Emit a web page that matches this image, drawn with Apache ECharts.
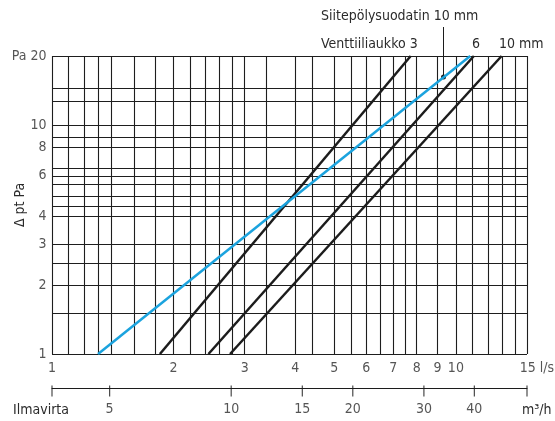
<!DOCTYPE html>
<html>
<head>
<meta charset="utf-8">
<script src="https://cdn.jsdelivr.net/npm/echarts@6/dist/echarts.min.js"></script>
<style>
  html, body { margin: 0; padding: 0; background: #fff; }
  #chart { width: 555px; height: 421px; }
</style>
</head>
<body>
<div id="chart"></div>
<script>
// tick labels, l/s and Pa
const flowTicks = [1, 2, 3, 4, 5, 6, 7, 8, 9, 10, 15];
const flowLabels = ['1', '2', '3', '4', '5', '6', '7', '8', '9', '10', '15 l/s'];
const paTicks = [1, 2, 3, 4, 6, 8, 10, 20];
const paLabels = ['1', '2', '3', '4', '6', '8', '10', 'Pa 20'];

// grid lines as drawn in the original
const gridFlow = [1, 1.1, 1.2, 1.3, 1.4, 1.6, 1.8, 2, 2.2, 2.4, 2.6, 2.8, 3, 3.4, 4, 4.4,
  5, 5.5, 6, 6.5, 7, 7.5, 8, 9, 10, 11, 12, 13, 14, 15];
const gridPa = [1, 1.5, 2, 2.5, 3, 4, 4.4, 4.9, 5.5, 6, 6.5, 8, 8.8, 10, 12.7, 14.4, 20];

// lower scale m3/h
const airflowTicks = [5, 10, 15, 20, 30, 40];
const airflowEnds = [3.6, 54];

// curves (start/end points, straight in log-log)
const curveNames = ['Venttiiliaukko 3', 'Venttiiliaukko 6', 'Venttiiliaukko 10 mm', 'Siitepölysuodatin 10 mm'];
const curveFlowStart = [1.85, 2.44, 2.76, 1.30];
const curveFlowEnd = [7.73, 11.08, 12.98, 10.85];
const curvePaStart = [1, 1, 1, 1];
const curvePaEnd = [20, 20, 20, 20];

const chart = echarts.init(document.getElementById('chart'));
const font = "'Liberation Sans Narrow', 'DejaVu Sans Condensed', sans-serif";
const txt = '#2b2b2b';
const lineCol = '#1c1c1c';

const labelStyle = { color: txt, fontSize: 14, fontFamily: font };

const curveSeries = curveNames.map((name, i) => ({
  name: name,
  type: 'line',
  xAxisIndex: 0,
  yAxisIndex: 0,
  data: [[curveFlowStart[i], curvePaStart[i]], [curveFlowEnd[i], curvePaEnd[i]]],
  symbol: 'none',
  silent: true,
  z: 5,
  lineStyle: { color: i === 3 ? '#1ba3de' : lineCol, width: 2.5 }
}));

chart.setOption({
  animation: false,
  backgroundColor: '#fff',
  grid: [
    { left: 52, right: 28, top: 56, bottom: 67 },
    { left: 52, right: 28, top: 387, height: 1 }
  ],
  xAxis: [
    {
      type: 'log', gridIndex: 0, min: 1, max: 15,
      axisLine: { show: false }, axisTick: { show: false },
      axisLabel: { show: false }, splitLine: { show: false }
    },
    {
      type: 'log', gridIndex: 1, min: 3.6, max: 54, position: 'top',
      axisLine: { show: true, lineStyle: { color: lineCol, width: 1 } },
      axisTick: { show: false }, axisLabel: { show: false }, splitLine: { show: false }
    }
  ],
  yAxis: [
    {
      type: 'log', gridIndex: 0, min: 1, max: 20,
      axisLine: { show: false }, axisTick: { show: false },
      axisLabel: { show: false }, splitLine: { show: false }
    },
    { type: 'value', gridIndex: 1, min: 0, max: 1, show: false }
  ],
  series: [
    {
      // grid
      type: 'line',
      xAxisIndex: 0, yAxisIndex: 0,
      data: [[1, 1]],
      symbol: 'none',
      lineStyle: { width: 0 },
      silent: true,
      z: 1,
      markLine: {
        silent: true,
        symbol: 'none',
        animation: false,
        label: { show: false },
        lineStyle: { type: 'solid', color: '#1e1e1e', width: 1.1 },
        data: gridFlow.map(v => ({ xAxis: v })).concat(gridPa.map(v => ({ yAxis: v })))
      }
    },
    ...curveSeries,
    {
      // l/s labels
      type: 'scatter',
      xAxisIndex: 0, yAxisIndex: 0,
      symbolSize: 1,
      itemStyle: { color: 'rgba(0,0,0,0)' },
      silent: true, clip: false,
      data: flowTicks.map((v, i) => ({
        value: [v, paTicks[0]],
        label: i === flowTicks.length - 1 ? { offset: [10, 0] } : {}
      })),
      label: Object.assign({
        show: true, position: 'bottom', distance: 7,
        formatter: p => flowLabels[p.dataIndex]
      }, labelStyle)
    },
    {
      // Pa labels
      type: 'scatter',
      xAxisIndex: 0, yAxisIndex: 0,
      symbolSize: 1,
      itemStyle: { color: 'rgba(0,0,0,0)' },
      silent: true, clip: false,
      data: paTicks.map(v => [flowTicks[0], v]),
      label: Object.assign({
        show: true, position: 'left', distance: 5,
        formatter: p => paLabels[p.dataIndex]
      }, labelStyle)
    },
    {
      // m3/h ticks
      type: 'scatter',
      xAxisIndex: 1, yAxisIndex: 1,
      symbol: 'rect',
      symbolSize: [1.2, 11],
      symbolOffset: [0, 4],
      itemStyle: { color: lineCol },
      silent: true, clip: false,
      data: airflowEnds.concat(airflowTicks).map(v => [v, 1])
    },
    {
      // m3/h labels
      type: 'scatter',
      xAxisIndex: 1, yAxisIndex: 1,
      symbolSize: 1,
      itemStyle: { color: 'rgba(0,0,0,0)' },
      silent: true, clip: false,
      data: airflowTicks.map(v => [v, 1]),
      label: Object.assign({
        show: true, position: 'bottom', distance: 15,
        formatter: p => String(airflowTicks[p.dataIndex])
      }, labelStyle)
    }
  ],
  graphic: [
    { type: 'text', x: 13, y: 410, style: { text: 'Ilmavirta', textVerticalAlign: 'middle', fill: txt, font: '14px ' + font } },
    { type: 'text', x: 522, y: 410, style: { text: 'm³/h', textVerticalAlign: 'middle', fill: txt, font: '14px ' + font } },
    { type: 'text', x: 20, y: 205, rotation: Math.PI / 2, style: { text: 'Δ pt Pa', textAlign: 'center', textVerticalAlign: 'middle', fill: txt, font: '14px ' + font } },
    { type: 'text', x: 321, y: 16, style: { text: 'Siitepölysuodatin 10 mm', textVerticalAlign: 'middle', fill: txt, font: '14px ' + font } },
    { type: 'text', x: 321, y: 44, style: { text: 'Venttiiliaukko 3', textVerticalAlign: 'middle', fill: txt, font: '14px ' + font } },
    { type: 'text', x: 476, y: 44, style: { text: '6', textAlign: 'center', textVerticalAlign: 'middle', fill: txt, font: '14px ' + font } },
    { type: 'text', x: 499, y: 44, style: { text: '10 mm', textVerticalAlign: 'middle', fill: txt, font: '14px ' + font } },
    { type: 'line', shape: { x1: 443.5, y1: 27, x2: 443.5, y2: 77 }, style: { stroke: lineCol, lineWidth: 1 } },
    { type: 'circle', shape: { cx: 443.5, cy: 77, r: 2.5 }, style: { fill: lineCol } }
  ]
});
</script>
</body>
</html>
